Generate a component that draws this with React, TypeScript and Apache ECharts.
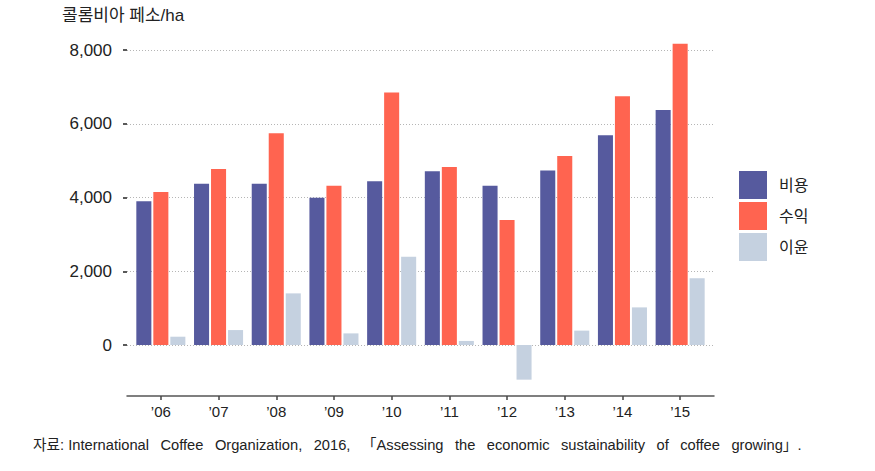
import React, { useEffect, useRef } from "react";
import * as echarts from "echarts";

const categories = ["’06", "’07", "’08", "’09", "’10", "’11", "’12", "’13", "’14", "’15"];
const costValues = [3900, 4370, 4375, 3995, 4440, 4710, 4320, 4730, 5690, 6375];
const revenueValues = [4150, 4775, 5740, 4320, 6845, 4830, 3390, 5125, 6745, 8170];
const profitValues = [225, 405, 1400, 315, 2395, 110, -940, 390, 1020, 1810];
const seriesNames = ["비용", "수익", "이윤"];
const yMin = 0;
const yMax = 8000;
const yInterval = 2000;
const unitLabel = "콜롬비아 페소/ha";
const sourcePrefix = "자료:";
const sourceBody =
  "International Coffee Organization, 2016, 「Assessing the economic sustainability of coffee growing」.";

const FONT = "'Liberation Sans', 'Noto Sans CJK KR', sans-serif";
const colors = ["#565A9E", "#FF6450", "#C5D1E0"];

export default function App() {
  const ref = useRef<HTMLDivElement>(null);
  useEffect(() => {
    if (!ref.current) return;
    const chart = echarts.init(ref.current, undefined, { renderer: "svg" });
    const gridTop = 50;
    const gridBottom = 126;
    chart.setOption({
      animation: false,
      textStyle: { fontFamily: FONT },
      grid: [
        { left: 127, right: 161, top: gridTop, bottom: gridBottom },
        { left: 132, right: 166, top: gridTop, bottom: gridBottom },
      ],
      xAxis: [
        {
          gridIndex: 0,
          type: "value",
          min: 0,
          max: 1,
          offset: 51,
          axisLine: { show: true, onZero: false, lineStyle: { color: "#555", width: 1.5 } },
          axisTick: { show: false },
          axisLabel: { show: false },
          splitLine: { show: false },
        },
        {
          gridIndex: 1,
          type: "category",
          data: categories,
          offset: 51,
          axisLine: { show: true, onZero: false, lineStyle: { color: "rgba(0,0,0,0)" } },
          axisTick: { show: true, alignWithLabel: true, length: 4, lineStyle: { color: "#444", width: 1.5 } },
          axisLabel: { color: "#222", fontSize: 15, margin: 8, fontFamily: FONT },
        },
      ],
      yAxis: [
        {
          gridIndex: 0,
          type: "value",
          min: yMin,
          max: yMax,
          interval: yInterval,
          axisLine: { show: false },
          axisTick: { show: true, length: 4, lineStyle: { color: "#222", width: 1.5 } },
          axisLabel: {
            color: "#222",
            fontSize: 17,
            margin: 15,
            fontFamily: FONT,
            formatter: (v: number) => v.toLocaleString("en-US"),
          },
          splitLine: { show: true, lineStyle: { color: "#b5b5b5", type: [1, 2], width: 1 } },
        },
        {
          gridIndex: 1,
          type: "value",
          min: yMin,
          max: yMax,
          interval: yInterval,
          show: false,
          splitLine: { show: false },
        },
      ],
      legend: {
        orient: "vertical",
        left: 734,
        top: 166,
        itemWidth: 28,
        itemHeight: 28,
        itemGap: 3,
        icon: "rect",
        data: seriesNames,
        textStyle: { fontSize: 16, color: "#222", fontFamily: FONT, padding: [0, 0, 0, 7] },
      },
      graphic: [
        {
          type: "text",
          left: 62,
          top: 7,
          style: { text: unitLabel, fontSize: 17, fill: "#222", fontFamily: FONT },
        },
        {
          type: "text",
          left: 33,
          top: 438,
          style: {
            text: sourcePrefix + " " + sourceBody.split(" ").join(" \u2002"),
            fontSize: 14.7,
            fill: "#222",
            fontFamily: FONT,
          },
        },
      ],
      series: [costValues, revenueValues, profitValues].map((data, i) => ({
        name: seriesNames[i],
        type: "bar",
        xAxisIndex: 1,
        yAxisIndex: 1,
        data,
        clip: false,
        barGap: "13%",
        barCategoryGap: "15%",
        itemStyle: { color: colors[i] },
      })),
    });
    return () => chart.dispose();
  }, []);
  return (
    <div
      ref={ref}
      style={{ position: "fixed", left: 0, top: 0, width: 875, height: 471, background: "#fff" }}
    />
  );
}
